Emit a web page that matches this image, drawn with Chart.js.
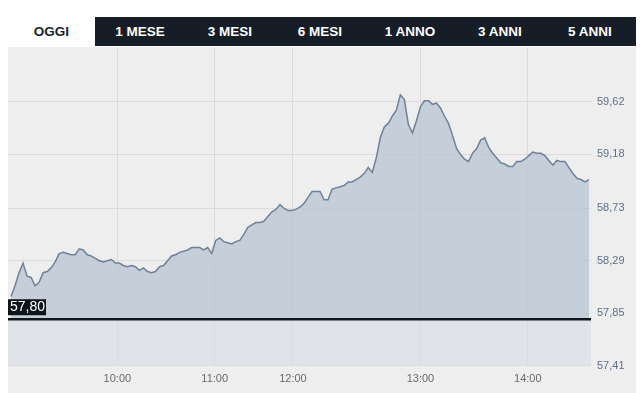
<!DOCTYPE html>
<html>
<head>
<meta charset="utf-8">
<script src="https://cdn.jsdelivr.net/npm/chart.js@4"></script>
<style>
  body { margin: 0; background: #fff; font-family: "Liberation Sans", Arial, sans-serif; }
  .tabs { position: absolute; left: 8px; top: 17px; width: 628px; height: 29px; display: flex; background: #161d27; }
  .tab { width: 90px; height: 29px; line-height: 29px; text-align: center; color: #fff; font-weight: bold; font-size: 13.5px; }
  .tab.active { width: 87px; background: #fff; color: #1a1f2b; }
  .panel { position: absolute; left: 8px; top: 47px; width: 628px; height: 346px; background: #eeeeee; }
</style>
</head>
<body>
<div class="tabs">
  <div class="tab active">OGGI</div>
  <div class="tab">1 MESE</div>
  <div class="tab">3 MESI</div>
  <div class="tab">6 MESI</div>
  <div class="tab">1 ANNO</div>
  <div class="tab">3 ANNI</div>
  <div class="tab">5 ANNI</div>
</div>
<div class="panel"><canvas id="chart" width="628" height="346"></canvas></div>
<script>
  // intraday prices, one sample per tick of the feed
  const prices = [
    57.99, 58.08, 58.19, 58.27, 58.16, 58.15, 58.08, 58.11, 58.19, 58.20,
    58.23, 58.28, 58.35, 58.36, 58.35, 58.34, 58.34, 58.39, 58.38, 58.34,
    58.33, 58.31, 58.29, 58.28, 58.29, 58.30, 58.27, 58.27, 58.25, 58.24,
    58.25, 58.24, 58.21, 58.23, 58.20, 58.19, 58.20, 58.24, 58.25, 58.29,
    58.33, 58.34, 58.36, 58.37, 58.38, 58.40, 58.40, 58.40, 58.38, 58.40,
    58.35, 58.46, 58.48, 58.45, 58.44, 58.43, 58.45, 58.46, 58.51, 58.57,
    58.59, 58.61, 58.61, 58.62, 58.66, 58.70, 58.72, 58.76, 58.73, 58.71,
    58.71, 58.72, 58.74, 58.77, 58.82, 58.87, 58.87, 58.87, 58.80, 58.80,
    58.89, 58.90, 58.91, 58.92, 58.95, 58.95, 58.97, 58.99, 59.02, 59.07,
    59.03, 59.15, 59.32, 59.41, 59.44, 59.50, 59.55, 59.68, 59.64, 59.43,
    59.36, 59.46, 59.58, 59.63, 59.63, 59.60, 59.61, 59.57, 59.50, 59.44,
    59.34, 59.23, 59.18, 59.14, 59.12, 59.19, 59.23, 59.30, 59.32, 59.24,
    59.19, 59.15, 59.11, 59.10, 59.08, 59.08, 59.12, 59.12, 59.14, 59.17,
    59.20, 59.19, 59.19, 59.17, 59.13, 59.09, 59.13, 59.12, 59.12, 59.07,
    59.02, 58.98, 58.97, 58.95, 58.97
  ];
  const prevClose = 57.80;

  // hour marks, placed at the sample where each hour starts
  const hourPos = [26.5, 50.75, 70.25, 102, 128.75];
  const hourLabels = ['10:00', '11:00', '12:00', '13:00', '14:00'];

  const yTicks = [57.41, 57.85, 58.29, 58.73, 59.18, 59.62];
  const yMin = 57.41, yMax = 60.08;
  const xMin = -0.75, xMax = 144.5;

  const fmt = v => v.toFixed(2).replace('.', ',');

  // black box with the previous close
  const closeLabel = {
    id: 'closeLabel',
    afterDatasetsDraw(chart) {
      const ctx = chart.ctx;
      const y = chart.scales.y.getPixelForValue(prevClose);
      const left = chart.chartArea.left;
      ctx.save();
      ctx.fillStyle = '#0d141c';
      ctx.fillRect(left, y - 20, 38, 16);
      ctx.fillStyle = '#fff';
      ctx.font = '14px "Liberation Sans", Arial, sans-serif';
      ctx.textBaseline = 'middle';
      ctx.fillText(fmt(prevClose), left + 2, y - 12);
      ctx.restore();
    }
  };

  new Chart(document.getElementById('chart'), {
    type: 'line',
    data: {
      datasets: [{
        data: prices.map((p, i) => ({ x: i, y: p })),
        borderColor: '#6e8299',
        borderWidth: 1.5,
        backgroundColor: 'rgba(188,198,211,0.8)',
        fill: { value: prevClose },
        pointRadius: 0,
        tension: 0,
        order: 2
      }, {
        data: [{ x: xMin, y: prevClose }, { x: xMax, y: prevClose }],
        borderColor: '#0e1620',
        borderWidth: 2.5,
        backgroundColor: 'rgba(215,220,228,0.6)',
        fill: 'start',
        pointRadius: 0,
        order: 1
      }]
    },
    options: {
      responsive: false,
      animation: false,
      layout: { padding: 0 },
      plugins: { legend: { display: false }, tooltip: { enabled: false } },
      scales: {
        x: {
          type: 'linear',
          min: xMin,
          max: xMax,
          afterBuildTicks: s => { s.ticks = hourPos.map(v => ({ value: v })); },
          afterFit: s => { s.paddingLeft = 0; s.paddingRight = 0; },
          ticks: {
            autoSkip: false,
            maxRotation: 0,
            padding: 7,
            color: '#6b6b6b',
            font: { family: '"Liberation Sans", Arial, sans-serif', size: 11 },
            callback: (v, i) => hourLabels[i]
          },
          grid: { color: '#dcdcdc', drawTicks: false },
          border: { display: false }
        },
        y: {
          position: 'right',
          min: yMin,
          max: yMax,
          afterBuildTicks: s => { s.ticks = yTicks.map(v => ({ value: v })); },
          afterFit: s => { s.width = 45; s.paddingTop = 0; s.paddingBottom = 0; },
          ticks: {
            padding: 6,
            color: '#5d718a',
            font: { family: '"Liberation Sans", Arial, sans-serif', size: 11 },
            callback: v => fmt(v)
          },
          grid: { color: '#dcdcdc', drawTicks: false },
          border: { display: false }
        }
      }
    },
    plugins: [closeLabel]
  });
</script>
</body>
</html>
